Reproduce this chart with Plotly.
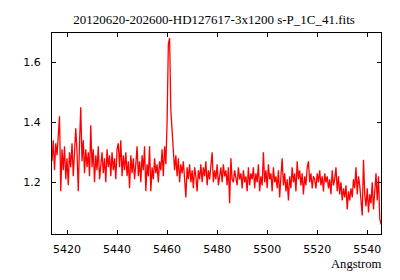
import numpy as np
import plotly.graph_objects as go

# Wavelength grid start/step (Angstrom) and flux values
wave_start = 5414.0
wave_step = 0.5
flux = [
    1.27, 1.34, 1.24, 1.33, 1.29, 1.35, 1.42, 1.17, 1.31, 1.24,
    1.32, 1.21, 1.28, 1.19, 1.30, 1.25, 1.33, 1.22, 1.29, 1.38,
    1.30, 1.17, 1.33, 1.45, 1.27, 1.34, 1.23, 1.31, 1.25, 1.30,
    1.22, 1.39, 1.25, 1.31, 1.20, 1.29, 1.24, 1.32, 1.21, 1.27,
    1.30, 1.23, 1.28, 1.20, 1.31, 1.25, 1.29, 1.22, 1.30, 1.24,
    1.28, 1.21, 1.31, 1.33, 1.25, 1.34, 1.22, 1.29, 1.24, 1.30,
    1.22, 1.27, 1.18, 1.29, 1.23, 1.28, 1.21, 1.26, 1.32, 1.22,
    1.27, 1.20, 1.29, 1.24, 1.32, 1.17, 1.26, 1.22, 1.32, 1.17,
    1.25, 1.21, 1.28, 1.23, 1.26, 1.20, 1.27, 1.24, 1.31, 1.22,
    1.32, 1.26, 1.40, 1.66, 1.68, 1.44, 1.38, 1.33, 1.24, 1.29,
    1.22, 1.28, 1.20, 1.26, 1.23, 1.27, 1.19, 1.15, 1.25, 1.21,
    1.26, 1.20, 1.24, 1.18, 1.25, 1.22, 1.17, 1.24, 1.21, 1.26,
    1.20, 1.25, 1.22, 1.27, 1.19, 1.24, 1.21, 1.26, 1.30, 1.20,
    1.24, 1.21, 1.26, 1.19, 1.23, 1.25, 1.20, 1.26, 1.22, 1.24,
    1.19, 1.25, 1.13, 1.28, 1.21, 1.20, 1.24, 1.22, 1.19, 1.25,
    1.21, 1.23, 1.18, 1.24, 1.20, 1.22, 1.17, 1.25, 1.19, 1.23,
    1.21, 1.25, 1.18, 1.23, 1.20, 1.26, 1.17, 1.22, 1.19, 1.30,
    1.20, 1.24, 1.18, 1.26, 1.21, 1.23, 1.17, 1.25, 1.20, 1.22,
    1.18, 1.24, 1.15, 1.22, 1.28, 1.19, 1.23, 1.17, 1.21, 1.14,
    1.22, 1.18, 1.25, 1.20, 1.23, 1.17, 1.27, 1.21, 1.24, 1.19,
    1.23, 1.16, 1.22, 1.19, 1.25, 1.27, 1.20, 1.23, 1.18, 1.22,
    1.21, 1.18, 1.23, 1.20, 1.24, 1.19, 1.22, 1.17, 1.23, 1.20,
    1.22, 1.18, 1.21, 1.16, 1.24, 1.19, 1.21, 1.25, 1.17, 1.22,
    1.16, 1.20, 1.14, 1.18, 1.15, 1.19, 1.11, 1.17, 1.14, 1.18,
    1.15, 1.21, 1.18, 1.25, 1.16, 1.22, 1.19, 1.14, 1.09, 1.275,
    1.16, 1.12, 1.18, 1.10, 1.16, 1.13, 1.20, 1.11, 1.17, 1.23,
    1.14, 1.22, 1.08, 1.06,
]
wave = [wave_start + wave_step * i for i in range(len(flux))]

x_ticks = [5420, 5440, 5460, 5480, 5500, 5520, 5540]
y_ticks = [1.2, 1.4, 1.6]
title_text = "20120620-202600-HD127617-3x1200 s-P_1C_41.fits"
x_label = "Angstrom"

fig = go.Figure()
fig.add_trace(go.Scatter(x=wave, y=flux, mode="lines",
                         line=dict(color="#ff0000", width=1.3), showlegend=False))

axis_common = dict(showline=True, linecolor="black", linewidth=1, mirror="ticks",
                   ticks="inside", ticklen=4, tickcolor="black", tickwidth=1,
                   showgrid=False, zeroline=False, automargin=False,
                   tickfont=dict(family="DejaVu Sans", size=11, color="black"))

fig.update_layout(
    width=400, height=280,
    margin=dict(l=52, r=19, t=33, b=46),
    paper_bgcolor="white", plot_bgcolor="white",
    title=dict(text=title_text, x=0.535, xanchor="center", y=0.93, yanchor="middle",
               font=dict(family="Liberation Serif", size=13, color="black")),
    xaxis=dict(range=[5414.0, 5545.5], tickvals=x_ticks, ticklabelstandoff=5, **axis_common),
    yaxis=dict(range=[1.028, 1.697], tickvals=y_ticks, ticklabelstandoff=8, **axis_common),
    annotations=[dict(text=x_label, xref="paper", yref="paper", x=1, y=0,
                      xanchor="right", yanchor="top", xshift=3, yshift=-21,
                      showarrow=False,
                      font=dict(family="Liberation Serif", size=12.6, color="black"))],
)

fig.write_html("out.html", config={"displayModeBar": False},
               post_script="document.body.style.margin='0px';document.body.style.overflow='hidden';")
